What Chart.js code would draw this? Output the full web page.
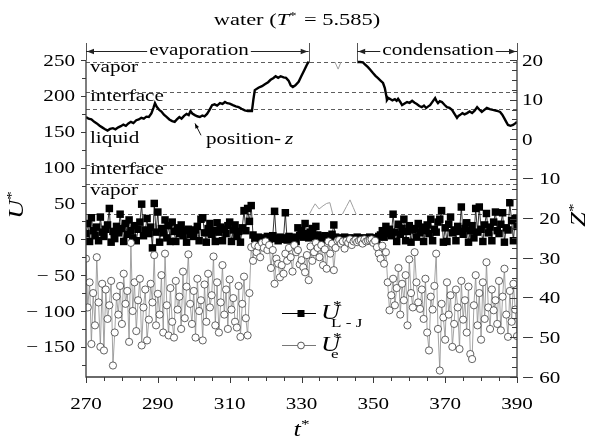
<!DOCTYPE html>
<html><head><meta charset="utf-8">
<script src="https://cdn.jsdelivr.net/npm/chart.js@4.4.1/dist/chart.umd.min.js"></script>
<style>html,body{margin:0;padding:0;background:#fff;}canvas{display:block;}</style>
</head><body>
<canvas id="c" width="593" height="440"></canvas>
<script>
// ---------- DATA ----------
const tSamples = [
270,270.5,271,271.5,272,272.5,273,273.5,274,274.5,
275,275.5,276,276.5,277,277.5,278,278.5,279,279.5,
280,280.5,281,281.5,282,282.5,283,283.5,284,284.5,
285,285.5,286,286.5,287,287.5,288,288.5,289,289.5,
290,290.5,291,291.5,292,292.5,293,293.5,294,294.5,
295,295.5,296,296.5,297,297.5,298,298.5,299,299.5,
300,300.5,301,301.5,302,302.5,303,303.5,304,304.5,
305,305.5,306,306.5,307,307.5,308,308.5,309,309.5,
310,310.5,311,311.5,312,312.5,313,313.5,314,314.5,
315,315.5,316,316.5,317,317.5,318,318.5,319,319.5,
320,320.5,321,321.5,322,322.5,323,323.5,324,324.5,
325,325.5,326,326.5,327,327.5,328,328.5,329,329.5,
330,330.5,331,331.5,332,332.5,333,333.5,334,334.5,
335,335.5,336,336.5,337,337.5,338,338.5,339,339.5,
340,340.5,341,341.5,342,342.5,343,343.5,344,344.5,
345,345.5,346,346.5,347,347.5,348,348.5,349,349.5,
350,350.5,351,351.5,352,352.5,353,353.5,354,354.5,
355,355.5,356,356.5,357,357.5,358,358.5,359,359.5,
360,360.5,361,361.5,362,362.5,363,363.5,364,364.5,
365,365.5,366,366.5,367,367.5,368,368.5,369,369.5,
370,370.5,371,371.5,372,372.5,373,373.5,374,374.5,
375,375.5,376,376.5,377,377.5,378,378.5,379,379.5,
380,380.5,381,381.5,382,382.5,383,383.5,384,384.5,
385,385.5,386,386.5,387,387.5,388,388.5,389,389.5,
390];

const uLJ = [
8,22,-3,30,12,5,17,-2,31,10,
4,14,20,43,-4,11,1,18,9,35,
15,-3,22,7,27,12,2,19,-2,14,
24,49,5,13,29,8,17,-12,50,10,
38,-4,15,9,27,2,19,-3,24,11,
-3,16,8,20,5,12,-4,14,7,10,
4,13,18,-2,28,30,9,-4,15,22,
7,12,-3,23,10,17,-2,14,8,19,
24,-3,13,20,4,11,-4,16,40,12,
43,25,47,6,1,-2,3,0,-3,2,
-1,4,0,2,5,39,1,-2,3,0,
2,37,-1,4,0,3,1,-3,16,5,
12,3,22,8,2,10,15,4,18,6,
2,-1,3,5,1,0,4,7,20,3,
1,-2,2,0,3,-1,1,2,0,-2,
1,3,0,-1,2,1,-2,0,3,1,
2,-1,0,4,6,12,3,18,8,14,
5,35,10,-3,21,7,15,28,-2,11,
19,-4,13,15,3,22,9,17,-3,12,
20,8,28,-2,14,10,24,28,40,-4,
16,-3,21,31,9,13,-2,18,11,45,
7,15,23,-4,12,19,2,43,10,45,
14,-3,20,36,9,17,-2,24,38,12,
8,21,37,-4,16,13,51,26,-2,29,
18];

const uE = [
-27,-95,-60,-146,-75,-120,-25,-88,-150,-62,
-155,-70,-111,-92,-58,-176,-130,-80,-105,-65,
-118,-48,-90,-72,-143,-5,-100,-60,-128,-85,
-55,-148,-95,-70,-141,-112,-62,-88,-22,-120,
-76,-105,-50,-130,-20,-92,-134,-68,-115,-137,
-58,-98,-80,-125,-45,-110,-66,-21,-90,-118,
-72,-137,-55,-100,-85,-141,-63,-115,-48,-95,
-78,-24,-120,-60,-130,-88,-36,-105,-70,-125,
-56,-98,-82,-115,-123,-65,-136,-90,-52,-110,
-134,-75,-11,-30,-8,-18,-10,-25,-5,-12,
-3,-15,-8,-40,-15,-62,-27,-34,-53,-36,
-48,-20,-30,-12,-25,-45,-8,-18,-15,-35,
-29,-39,-46,-22,-57,-10,-30,-18,-5,-12,
-25,-8,-36,-14,-41,-3,-20,-6,-43,-12,
-2,-1,-6,-3,-13,-2,-5,0,-8,-3,
-1,-4,-2,-1,-6,0,-3,-2,-1,0,
-5,-2,-11,-20,-27,-9,-34,-18,-60,-99,
-78,-55,-92,-68,-40,-105,-62,-85,-50,-120,
-28,-75,-95,-18,-60,-88,-97,-70,-111,-55,
-130,-155,-80,-98,-65,-20,-125,-183,-90,-109,
-140,-60,-105,-78,-150,-118,-70,-95,-153,-58,
-112,-85,-130,-66,-160,-167,-92,-50,-120,-75,
-140,-60,-111,-32,-95,-125,-70,-99,-85,-118,
-58,-127,-80,-41,-105,-136,-72,-115,-62,-98,
-135];

// interface position z (right axis), black segments
const zEvap = [[270,5.6],[270.7,5.2],[271.5,5.0],[272.3,4.4],[273,4.0],[273.8,3.4],[274.5,3.0],[275.2,2.6],[276,2.2],[276.7,2.6],[277.5,2.8],[278.2,2.5],[279,3.0],[279.7,3.3],[280.4,3.7],[281.1,3.4],[281.8,4.0],[282.5,4.4],[283.2,4.1],[284,4.8],[284.7,5.0],[285.4,5.4],[286.1,5.2],[286.8,5.7],[287.5,5.6],[288.2,6.5],[288.8,8.0],[289.2,9.1],[289.7,8.2],[290.4,7.4],[291,7.0],[291.7,6.2],[292.5,5.6],[293.2,5.0],[294,4.6],[294.7,4.4],[295.3,5.0],[296,5.6],[296.6,5.2],[297.3,5.9],[298,6.4],[298.6,6.1],[299.1,7.1],[299.6,6.5],[300.3,6.1],[301,5.8],[301.7,5.6],[302.4,6.0],[303,5.8],[303.7,6.4],[304.4,7.4],[305.1,8.6],[305.8,8.8],[306.5,8.5],[307.3,9.1],[308,8.9],[308.7,9.4],[309.3,9.1],[310,9.0],[310.9,8.6],[311.7,8.3],[312.5,8.1],[313.3,7.7],[314.2,7.3],[315.1,7.1],[316.2,7.1],[316.6,10.0],[317,12.4],[318,13.0],[319,13.4],[319.8,13.9],[320.7,14.4],[321.4,15.0],[322.1,15.4],[322.8,15.9],[323.5,15.5],[324.2,15.9],[325,15.6],[325.7,15.5],[326.4,14.8],[327,13.6],[327.6,13.2],[328.3,13.6],[329.2,14.5],[330,16.0],[330.8,17.5],[331.5,18.8],[332,19.6]];
const zCond = [[345.5,19.5],[346.3,19.5],[347.1,19.4],[347.8,18.8],[348.5,18.2],[349.2,17.5],[349.9,16.7],[350.6,16.0],[351.3,15.4],[352,14.8],[352.7,14.2],[353.2,12.9],[353.6,11.0],[353.8,9.9],[354.2,10.4],[354.6,10.2],[355.3,9.8],[356,10.1],[356.5,9.7],[356.9,10.2],[357.5,9.4],[358,8.6],[358.7,9.0],[359.4,9.4],[360.1,9.2],[360.8,9.7],[361.5,9.2],[362.1,8.9],[362.8,8.4],[363.5,8.1],[364.1,8.5],[364.7,7.9],[365.3,8.3],[365.8,8.6],[366.5,9.5],[367.2,10.4],[367.6,9.6],[368,9.1],[368.5,9.6],[369.1,9.4],[369.8,8.7],[370.5,8.1],[371.2,7.9],[371.9,7.4],[372.6,6.4],[373.3,5.4],[373.7,5.9],[374.1,6.1],[374.8,6.6],[375.4,6.3],[376.1,6.6],[376.8,7.0],[377.5,6.6],[378.2,7.2],[378.9,8.1],[379.5,7.5],[380.2,6.9],[380.9,7.4],[381.6,7.9],[382.4,7.6],[383.3,7.4],[384.3,7.2],[385.3,6.9],[385.9,6.2],[386.4,5.4],[387,4.4],[387.5,3.6],[388.2,3.4],[388.9,3.6],[389.5,4.0],[390,4.4]];
// wrapped (periodic image) parts of the z trace, grey
const zWrapA = [[332.2,-18.9],[333,-17.5],[333.8,-16.3],[334.9,-17.6],[336,-16.8],[337,-16.2],[337.9,-16.0],[338.7,-18.9]];
const zWrapTop = [[339.3,19.5],[340.2,17.7],[341,19.5]];
const zWrapB = [[341.4,-18.9],[342.5,-17.0],[343.5,-15.3],[344.4,-17.2],[345.2,-18.9]];

// region boundaries (z) and labels
const zLevels = [19.5, 11.9, 7.6, -6.5, -11.3, -18.9];
const regionNames = ["vapor","interface","liquid","interface","vapor"];
const regionAnchorZ = [16.9, 9.6, -0.9, -8.8, -14.1];

// tick labels
const tTicks = [270,290,310,330,350,370,390];
const uTicks = [-150,-100,-50,0,50,100,150,200,250];
const zTicks = [-60,-50,-40,-30,-20,-10,0,10,20];

// ---------- DRAWING ----------
const SERIF = '"Liberation Serif","Times New Roman",serif';
const SX = 1.32;
const pairs = (a) => a.map(p => ({x:p[0], y:p[1]}));
const fmt = v => v < 0 ? '\u2212 ' + Math.abs(v) : String(v);

function txt(ctx, s, x, y, font, align) {
  ctx.font = font;
  const w = ctx.measureText(s).width * SX;
  const x0 = align === 'center' ? x - w/2 : align === 'right' ? x - w : x;
  ctx.save(); ctx.translate(x0, y); ctx.scale(SX, 1);
  ctx.textAlign = 'left'; ctx.textBaseline = 'alphabetic';
  ctx.fillText(s, 0, 0); ctx.restore();
  return w;
}
function rich(ctx, parts, x, y, align) {
  let w = 0;
  for (const p of parts) { ctx.font = p[1]; w += ctx.measureText(p[0]).width * SX + (p[3]||0); }
  let cx = align === 'center' ? x - w/2 : align === 'right' ? x - w : x;
  for (const p of parts) { const pw = txt(ctx, p[0], cx, y + (p[2]||0), p[1], 'left'); cx += pw + (p[3]||0); }
  return w;
}
function arrowHead(ctx, x, y, dir) {
  ctx.beginPath(); ctx.moveTo(x, y); ctx.lineTo(x - dir*7, y - 2.8); ctx.lineTo(x - dir*7, y + 2.8); ctx.closePath(); ctx.fill();
}

const N16 = '16px ' + SERIF, N17 = '17px ' + SERIF, I17 = 'italic 17px ' + SERIF, I16 = 'italic 16px ' + SERIF, S11 = '11px ' + SERIF;
const I20 = 'italic 20px ' + SERIF, S13 = '13px ' + SERIF;

const deco = {
  id: 'deco',
  beforeDatasetsDraw(chart) {
    const ctx = chart.ctx, a = chart.chartArea, z = chart.scales.y2;
    ctx.save();
    ctx.strokeStyle = '#333'; ctx.lineWidth = 0.8; ctx.setLineDash([4, 3]);
    for (const lv of zLevels) {
      const y = Math.round(z.getPixelForValue(lv)) + 0.5;
      ctx.beginPath(); ctx.moveTo(a.left, y); ctx.lineTo(a.right, y); ctx.stroke();
    }
    ctx.restore();
  },
  afterDraw(chart) {
    const ctx = chart.ctx, a = chart.chartArea;
    const xs = chart.scales.x, ys = chart.scales.y, zs = chart.scales.y2;
    ctx.save();
    ctx.fillStyle = '#000'; ctx.strokeStyle = '#3a3a3a'; ctx.lineWidth = 1.3; ctx.setLineDash([]);
    // axis lines
    ctx.beginPath();
    ctx.moveTo(a.left, a.top); ctx.lineTo(a.left, a.bottom); ctx.lineTo(a.right, a.bottom); ctx.lineTo(a.right, a.top);
    ctx.stroke();
    ctx.lineWidth = 1;
    // left ticks
    for (let v = -175; v <= 250; v += 25) {
      const y = Math.round(ys.getPixelForValue(v)) + 0.5;
      const L = (v % 50 === 0) ? 5 : 4;
      ctx.beginPath(); ctx.moveTo(a.left - L, y); ctx.lineTo(a.left, y); ctx.stroke();
    }
    // bottom ticks
    for (let v = 270; v <= 390; v += 5) {
      const x = Math.round(xs.getPixelForValue(v)) + 0.5;
      const L = ((v - 270) % 20 === 0) ? 6 : 4;
      ctx.beginPath(); ctx.moveTo(x, a.bottom); ctx.lineTo(x, a.bottom + L); ctx.stroke();
    }
    // right ticks (inward)
    for (let v = -60; v <= 20; v += 2.5) {
      const y = Math.round(zs.getPixelForValue(v)) + 0.5;
      const L = (v % 10 === 0) ? 7 : 5;
      ctx.beginPath(); ctx.moveTo(a.right - L, y); ctx.lineTo(a.right, y); ctx.stroke();
    }
    // tick labels
    for (const v of uTicks) txt(ctx, fmt(v), a.left - 11, ys.getPixelForValue(v) + 5.5, N16, 'right');
    for (const v of zTicks) txt(ctx, fmt(v), a.right + 5, zs.getPixelForValue(v) + 5.5, N16, 'left');
    for (const v of tTicks) txt(ctx, String(v), xs.getPixelForValue(v), a.bottom + 32, N16, 'center');

    // axis titles
    rich(ctx, [['t', I20], ['*', S13, -8]], xs.getPixelForValue(330), a.bottom + 59, 'center');
    ctx.save(); ctx.translate(23, 205); ctx.rotate(-Math.PI/2);
    rich(ctx, [['U', I20], ['*', S13, -8]], 0, 0, 'center'); ctx.restore();
    ctx.save(); ctx.translate(585, 215); ctx.rotate(-Math.PI/2);
    rich(ctx, [['Z', I20], ['*', S13, -8]], 0, 0, 'center'); ctx.restore();

    // title
    rich(ctx, [['water (', N17], ['T', I17], ['*', S11, -6, 2], [' = 5.585)', N17]], 297, 25, 'center');

    // region labels
    regionNames.forEach((s, i) => txt(ctx, s, a.left + 4, zs.getPixelForValue(regionAnchorZ[i]), N16, 'left'));

    // evaporation / condensation brackets
    const yA = a.top - 9, yTop = a.top - 17;
    const xE0 = xs.getPixelForValue(270), xE1 = xs.getPixelForValue(332);
    const xC0 = xs.getPixelForValue(345.5), xC1 = xs.getPixelForValue(390);
    ctx.strokeStyle = '#555'; ctx.fillStyle = '#222'; ctx.lineWidth = 1;
    for (const [x, y2] of [[xE0, a.top], [xE1, a.top + 3], [xC0, a.top + 3], [xC1, a.top]]) {
      ctx.beginPath(); ctx.moveTo(Math.round(x)+0.5, yTop); ctx.lineTo(Math.round(x)+0.5, y2); ctx.stroke();
    }
    function bracket(x0, x1, label, cx) {
      ctx.fillStyle = '#000';
      const w = txt(ctx, label, cx, yA + 4, N16, 'center');
      ctx.strokeStyle = '#222';
      ctx.beginPath(); ctx.moveTo(x0, yA + 0.5); ctx.lineTo(cx - w/2 - 2, yA + 0.5);
      ctx.moveTo(cx + w/2 + 2, yA + 0.5); ctx.lineTo(x1, yA + 0.5); ctx.stroke();
      ctx.fillStyle = '#222';
      arrowHead(ctx, x0 + 1, yA + 0.5, -1); arrowHead(ctx, x1 - 1, yA + 0.5, 1);
    }
    bracket(xE0, xE1, 'evaporation', 199);
    bracket(xC0, xC1, 'condensation', 438);

    // position-z label with small arrow
    ctx.fillStyle = '#000';
    rich(ctx, [['position-', N16, 0, 4], ['z', I16]], 206, zs.getPixelForValue(-1.3), 'left');
    const ax0 = 201, ay0 = zs.getPixelForValue(1.0), ax1 = 195, ay1 = zs.getPixelForValue(4.0);
    ctx.strokeStyle = '#000'; ctx.lineWidth = 0.9;
    ctx.beginPath(); ctx.moveTo(ax0, ay0); ctx.lineTo(ax1, ay1); ctx.stroke();
    ctx.save(); ctx.translate(ax1, ay1); ctx.rotate(Math.atan2(ay1 - ay0, ax1 - ax0));
    ctx.beginPath(); ctx.moveTo(0, 0); ctx.lineTo(-5, -2); ctx.lineTo(-5, 2); ctx.closePath(); ctx.fill(); ctx.restore();

    // legend
    const lx0 = 282, lx1 = 316, lm = 301, r1 = 313, r2 = 345;
    ctx.strokeStyle = '#000'; ctx.lineWidth = 1;
    ctx.beginPath(); ctx.moveTo(lx0, r1 + 0.5); ctx.lineTo(lx1, r1 + 0.5); ctx.stroke();
    ctx.fillStyle = '#000'; ctx.fillRect(lm - 3.5, r1 - 3, 7, 7);
    ctx.strokeStyle = '#777';
    ctx.beginPath(); ctx.moveTo(lx0, r2 + 0.5); ctx.lineTo(lx1, r2 + 0.5); ctx.stroke();
    ctx.fillStyle = '#fff'; ctx.strokeStyle = '#444'; ctx.lineWidth = 0.9;
    ctx.beginPath(); ctx.arc(lm, r2 + 0.5, 3.4, 0, 2*Math.PI); ctx.fill(); ctx.stroke();
    ctx.fillStyle = '#000';
    txt(ctx, 'U', 321, r1 + 6, I20, 'left');
    txt(ctx, '*', 333, r1 - 4, S13, 'left');
    txt(ctx, 'L - J', 331, r1 + 14, S13, 'left');
    txt(ctx, 'U', 321, r2 + 6, I20, 'left');
    txt(ctx, '*', 333, r2 - 4, S13, 'left');
    txt(ctx, 'e', 331, r2 + 13, S13, 'left');
    ctx.restore();
  }
};

const hideScale = (w, h) => ({
  grid: {display: false, drawTicks: false}, border: {display: false},
  ticks: {display: false},
  afterFit(s) { if (w !== null) s.width = w; if (h !== null) s.height = h; }
});

new Chart(document.getElementById('c'), {
  type: 'line',
  data: {
    datasets: [
      {data: pairs(zEvap), yAxisID: 'y2', borderColor: '#000', borderWidth: 2.4, pointRadius: 0, order: 0},
      {data: pairs(zCond), yAxisID: 'y2', borderColor: '#000', borderWidth: 2.4, pointRadius: 0, order: 0},
      {data: pairs(zWrapA), yAxisID: 'y2', borderColor: '#a0a0a0', borderWidth: 1, pointRadius: 0, order: 0},
      {data: pairs(zWrapTop), yAxisID: 'y2', borderColor: '#a0a0a0', borderWidth: 1, pointRadius: 0, order: 0},
      {data: pairs(zWrapB), yAxisID: 'y2', borderColor: '#a0a0a0', borderWidth: 1, pointRadius: 0, order: 0},
      {data: tSamples.map((t, i) => ({x: t, y: uE[i]})), yAxisID: 'y', borderColor: '#8c8c8c', borderWidth: 0.8,
        pointStyle: 'circle', pointRadius: 3.6, pointBackgroundColor: '#fff', pointBorderColor: '#3c3c3c', pointBorderWidth: 0.8, order: 1},
      {data: tSamples.map((t, i) => ({x: t, y: uLJ[i]})), yAxisID: 'y', borderColor: '#000', borderWidth: 0.8,
        pointStyle: 'rect', pointRadius: 5.3, pointBackgroundColor: '#000', pointBorderColor: '#000', pointBorderWidth: 0, order: 2}
    ]
  },
  options: {
    responsive: false, animation: false, devicePixelRatio: 1,
    layout: {padding: {top: 60, left: 0, right: 0, bottom: 0}},
    plugins: {legend: {display: false}, tooltip: {enabled: false}, title: {display: false}},
    scales: {
      x: Object.assign({type: 'linear', position: 'bottom', min: 270, max: 390}, hideScale(null, 63)),
      y: Object.assign({type: 'linear', position: 'left', min: -192, max: 250}, hideScale(86, null)),
      y2: Object.assign({type: 'linear', position: 'right', min: -60, max: 20}, hideScale(76, null))
    }
  },
  plugins: [deco]
});
</script>
</body></html>
